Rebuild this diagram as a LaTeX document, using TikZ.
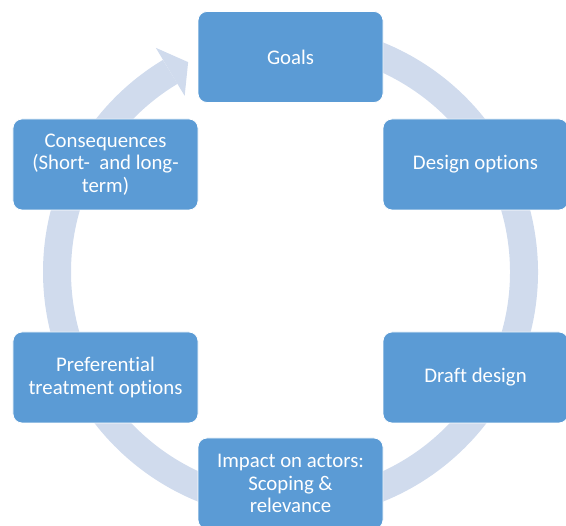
\documentclass[tikz,border=0pt]{standalone}
\usepackage{fontspec}
\setmainfont{Carlito}[Ligatures={NoCommon,NoContextual}]
\usetikzlibrary{calc}
\definecolor{boxblue}{HTML}{5B9BD5}
\definecolor{ringblue}{HTML}{D0DBED}
\tikzset{
  stage/.style={draw=white, line width=0.8bp, fill=boxblue, rounded corners=9bp,
    minimum width=185bp, minimum height=91bp, inner sep=0pt, align=center,
    text=white, font=\fontsize{20.8bp}{22.5bp}\selectfont},
  ring/.style={draw=ringblue, line width=28bp},
}
\begin{document}
\begin{tikzpicture}[x=1bp,y=1bp]
\useasboundingbox (0,0) rectangle (566,526);
\coordinate (c) at (290.5,254);
% circular band
\draw[ring] ($(c)+(95:233.5)$) arc[start angle=95, end angle=-239, radius=233.5];
% arrow head
\fill[ringblue] ($(c)+(121:261.5)$) -- ($(c)+(116:233.5)$) -- ($(c)+(121:205.5)$) -- cycle;
% stages
\node[stage] (goals) at (290.5,469) {Goals};
\node[stage] (design) at (475.5,361.5) {Design options};
\node[stage] (draft) at (475.5,148.5) {Draft design};
\node[stage] (impact) at (290.5,42.5) {Impact on actors:\\Scoping \&\\relevance};
\node[stage] (pref) at (105.5,148.5) {Preferential\\treatment options};
\node[stage] (cons) at (105.5,361.5) {Consequences\\(Short-\ \ and long-\\term)};
\end{tikzpicture}
\end{document}
